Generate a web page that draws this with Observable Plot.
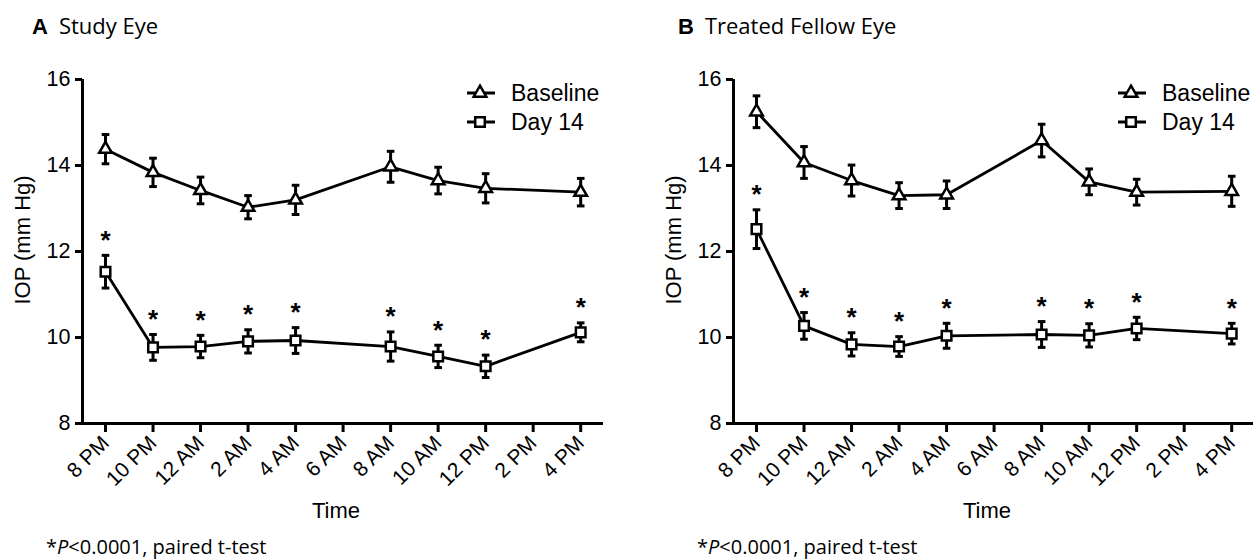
<!DOCTYPE html>
<html>
<head>
<meta charset="utf-8">
<script src="https://cdn.jsdelivr.net/npm/d3@7"></script>
<script src="https://cdn.jsdelivr.net/npm/@observablehq/plot@0.6"></script>
<style>
  html, body { margin: 0; padding: 0; background: #fff; }
  body { width: 1253px; height: 560px; overflow: hidden; position: relative; color: #000; }
  .abs { position: absolute; white-space: nowrap; line-height: 1; }
  .title { font-family: "Open Sans", sans-serif; font-size: 22px; }
  .title b { font-family: "Liberation Sans", Arial, sans-serif; font-weight: bold; font-size: 22px; margin-right: 11px; }
  .axlab { font-family: "Liberation Sans", Arial, sans-serif; font-size: 22px; }
  .foot { font-family: "Open Sans", sans-serif; font-size: 20px; }
  svg { overflow: visible; }
</style>
</head>
<body>
<script>
// ---- Data ----
const times = ["8 PM", "10 PM", "12 AM", "2 AM", "4 AM", "6 AM", "8 AM", "10 AM", "12 PM", "2 PM", "4 PM"];
const measuredIdx = [0, 1, 2, 3, 4, 6, 7, 8, 10];
const series = ["Baseline", "Day 14"];
const yTicks = [8, 10, 12, 14, 16];

// Panel A: Study Eye
const studyBaseline   = [14.38, 13.84, 13.42, 13.03, 13.20, 13.97, 13.65, 13.47, 13.38];
const studyBaselineSE = [0.34, 0.33, 0.31, 0.27, 0.34, 0.36, 0.31, 0.34, 0.32];
const studyDay14      = [11.53, 9.77, 9.79, 9.91, 9.93, 9.79, 9.56, 9.33, 10.12];
const studyDay14SE    = [0.38, 0.30, 0.26, 0.27, 0.30, 0.34, 0.26, 0.26, 0.22];
const studySig        = [true, true, true, true, true, true, true, true, true];

// Panel B: Treated Fellow Eye
const fellowBaseline   = [15.25, 14.07, 13.65, 13.30, 13.32, 14.58, 13.62, 13.38, 13.40];
const fellowBaselineSE = [0.37, 0.37, 0.36, 0.30, 0.32, 0.38, 0.30, 0.30, 0.35];
const fellowDay14      = [12.52, 10.27, 9.84, 9.79, 10.04, 10.07, 10.05, 10.21, 10.09];
const fellowDay14SE    = [0.45, 0.31, 0.27, 0.23, 0.29, 0.30, 0.27, 0.26, 0.24];
const fellowSig        = [true, true, true, true, true, true, true, true, true];

const titles = [["A", "Study Eye"], ["B", "Treated Fellow Eye"]];
const footnote = "P<0.0001, paired t-test";

// ---- Drawing ----
const cap = { draw(ctx, size) { const w = Math.sqrt(size) / 2; ctx.moveTo(-w, 0); ctx.lineTo(w, 0); } };

function buildRows(base, baseSE, d14, d14SE, sig) {
  const rows = [];
  measuredIdx.forEach((t, i) => rows.push({ t, m: base[i], se: baseSE[i], series: series[0], sig: false }));
  measuredIdx.forEach((t, i) => rows.push({ t, m: d14[i], se: d14SE[i], series: series[1], sig: sig[i] }));
  return rows;
}

function panel(rows) {
  const x0 = -0.484, x1 = 10.48;
  return Plot.plot({
    width: 626, height: 490,
    marginTop: 39, marginBottom: 107, marginLeft: 82, marginRight: 23,
    x: { type: "linear", domain: [x0, x1] },
    y: { domain: [8, 16] },
    style: { fontFamily: "Liberation Sans, Arial, sans-serif", fontSize: "21px", color: "#000", background: "transparent", overflow: "visible" },
    marks: [
      Plot.axisY({ ticks: yTicks, tickSize: 7, tickPadding: 5, strokeWidth: 3, fontSize: 21.5, label: null, tickFormat: d => d }),
      Plot.axisX({ ticks: d3.range(times.length), tickFormat: i => times[i], tickRotate: -45, tickSize: 9, tickPadding: 7, strokeWidth: 3, fontSize: 21, label: null }),
      Plot.ruleY([8], { strokeWidth: 3, stroke: "black" }),
      Plot.ruleX([x0], { strokeWidth: 3, stroke: "black" }),
      Plot.line(rows, { x: "t", y: "m", z: "series", stroke: "black", strokeWidth: 2.8 }),
      Plot.ruleX(rows, { x: "t", y1: d => d.m - d.se, y2: d => d.m + d.se, stroke: "black", strokeWidth: 3 }),
      Plot.dot(rows, { x: "t", y: d => d.m + d.se, symbol: cap, r: 4.3, fill: "none", stroke: "black", strokeWidth: 3 }),
      Plot.dot(rows, { x: "t", y: d => d.m - d.se, symbol: cap, r: 4.3, fill: "none", stroke: "black", strokeWidth: 3 }),
      Plot.dot(rows.filter(d => d.series === series[0]), { x: "t", y: "m", symbol: "triangle", r: 4.7, fill: "white", stroke: "black", strokeWidth: 2.5 }),
      Plot.dot(rows.filter(d => d.series === series[1]), { x: "t", y: "m", symbol: "square", r: 5.4, fill: "white", stroke: "black", strokeWidth: 2.5 }),
      Plot.text(rows.filter(d => d.sig), { x: "t", y: d => d.m + d.se, text: () => "*", dy: -15, fontSize: 26, fontWeight: "bold" })
    ]
  });
}

const panels = [
  buildRows(studyBaseline, studyBaselineSE, studyDay14, studyDay14SE, studySig),
  buildRows(fellowBaseline, fellowBaselineSE, fellowDay14, fellowDay14SE, fellowSig)
];
const offsets = [0, 651];

panels.forEach((rows, p) => {
  const ox = offsets[p];
  // title
  const t = document.createElement("div");
  t.className = "abs title";
  t.style.left = (32 + (p ? -5 : 0) + ox) + "px";
  t.style.top = "14px";
  t.innerHTML = `<b>${titles[p][0]}</b>${titles[p][1]}`;
  document.body.appendChild(t);

  // chart
  const chart = panel(rows);
  chart.style.position = "absolute";
  chart.style.left = ox + "px";
  chart.style.top = "40px";
  document.body.appendChild(chart);

  // y label
  const yl = document.createElement("div");
  yl.className = "abs axlab";
  yl.textContent = "IOP (mm Hg)";
  yl.style.left = (23 + ox) + "px";
  yl.style.top = "240px";
  yl.style.transform = "translate(-50%, -50%) rotate(-90deg)";
  document.body.appendChild(yl);

  // x label
  const xl = document.createElement("div");
  xl.className = "abs axlab";
  xl.textContent = "Time";
  xl.style.left = (336 + ox) + "px";
  xl.style.top = "500px";
  xl.style.transform = "translateX(-50%)";
  document.body.appendChild(xl);

  // footnote
  const fn = document.createElement("div");
  fn.className = "abs foot";
  fn.innerHTML = `*<i>${footnote.slice(0, 1)}</i>${footnote.slice(1)}`;
  fn.style.left = (46 + ox) + "px";
  fn.style.top = "537px";
  document.body.appendChild(fn);

  // legend
  const lg = d3.select(document.body).append("svg")
    .attr("width", 160).attr("height", 60)
    .style("position", "absolute").style("left", (460 + ox) + "px").style("top", "78px");
  series.forEach((s, i) => {
    const cy = 15 + i * 29;
    lg.append("line").attr("x1", 7).attr("x2", 35).attr("y1", cy).attr("y2", cy).attr("stroke", "black").attr("stroke-width", 3);
    const sym = i === 0 ? d3.symbol(d3.symbolTriangle, Math.PI * 4.7 * 4.7) : d3.symbol(d3.symbolSquare, Math.PI * 5.4 * 5.4);
    lg.append("path").attr("d", sym()).attr("transform", `translate(20,${cy})`).attr("fill", "white").attr("stroke", "black").attr("stroke-width", 2.5);
    lg.append("text").attr("x", 51).attr("y", cy).attr("dy", "0.35em").attr("font-family", "Liberation Sans, Arial, sans-serif").attr("font-size", 23).text(s);
  });
});
</script>
</body>
</html>
